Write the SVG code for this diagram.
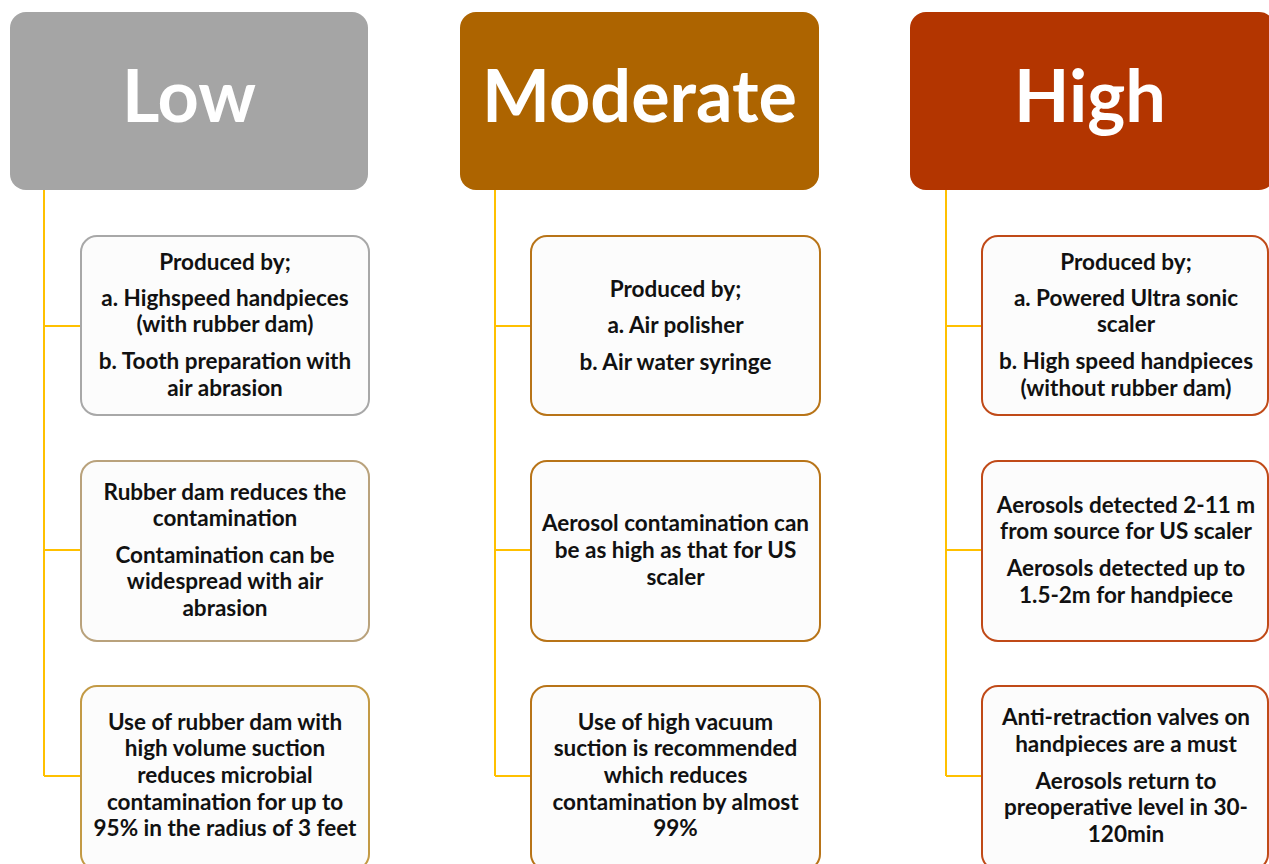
<svg xmlns="http://www.w3.org/2000/svg" width="1269" height="864" viewBox="0 0 1269 864">
  <style>
    .hdr-text { font-family: Lato, "Open Sans", "Liberation Sans", sans-serif; font-weight: 700; font-size: 72px; fill: #ffffff; text-anchor: middle; }
    .card { fill: #fcfcfc; stroke-width: 2; }
    .card-text { font-family: Lato, "Open Sans", "Liberation Sans", sans-serif; font-weight: 700; font-size: 22.5px; fill: #111111; text-anchor: middle; }
    .link { fill: none; stroke: #ffc000; stroke-width: 2; }
  </style>
  <rect width="1269" height="864" fill="#ffffff"/>

  <!-- connectors from each header down to its cards -->
  <g id="connectors">
    <path class="link" d="M44 190 V776 M44 326 H81 M44 550 H81 M44 776 H81"/>
    <path class="link" d="M495 190 V776 M495 326 H531 M495 550 H531 M495 776 H531"/>
    <path class="link" d="M946 190 V776 M946 326 H982 M946 550 H982 M946 776 H982"/>
  </g>

  <!-- column headers -->
  <g id="hdr-low">
    <rect x="10" y="12" width="358" height="178" rx="16" fill="#a5a5a5"/>
    <text class="hdr-text" x="189" y="122">Low</text>
  </g>
  <g id="hdr-moderate">
    <rect x="460" y="12" width="359" height="178" rx="16" fill="#ad6400"/>
    <text class="hdr-text" x="639.5" y="122">Moderate</text>
  </g>
  <g id="hdr-high">
    <rect x="910" y="12" width="365" height="178" rx="16" fill="#b33500"/>
    <text class="hdr-text" x="1090" y="122">High</text>
  </g>

  <!-- Low column cards -->
  <g id="low-1">
    <rect class="card" x="81" y="236" width="288" height="179" rx="16" stroke="#a8a8a8"/>
    <text class="card-text" x="225"><tspan x="225" y="270">Produced by;</tspan><tspan x="225" y="306">a. Highspeed handpieces</tspan><tspan x="225" y="332">(with rubber dam)</tspan><tspan x="225" y="369">b. Tooth preparation with</tspan><tspan x="225" y="396">air abrasion</tspan></text>
  </g>
  <g id="low-2">
    <rect class="card" x="81" y="461" width="288" height="180" rx="16" stroke="#b9a27c"/>
    <text class="card-text" x="225"><tspan x="225" y="500">Rubber dam reduces the</tspan><tspan x="225" y="526">contamination</tspan><tspan x="225" y="563">Contamination can be</tspan><tspan x="225" y="589">widespread with air</tspan><tspan x="225" y="616">abrasion</tspan></text>
  </g>
  <g id="low-3">
    <rect class="card" x="81" y="686" width="288" height="184" rx="16" stroke="#c39a45"/>
    <text class="card-text" x="225"><tspan x="225" y="730">Use of rubber dam with</tspan><tspan x="225" y="756">high volume suction</tspan><tspan x="225" y="783">reduces microbial</tspan><tspan x="225" y="810">contamination for up to</tspan><tspan x="225" y="836">95% in the radius of 3 feet</tspan></text>
  </g>

  <!-- Moderate column cards -->
  <g id="mod-1">
    <rect class="card" x="531" y="236" width="289" height="179" rx="16" stroke="#b87418"/>
    <text class="card-text" x="675.5"><tspan x="675.5" y="297">Produced by;</tspan><tspan x="675.5" y="333">a. Air polisher</tspan><tspan x="675.5" y="370">b. Air water syringe</tspan></text>
  </g>
  <g id="mod-2">
    <rect class="card" x="531" y="461" width="289" height="180" rx="16" stroke="#b87418"/>
    <text class="card-text" x="675.5"><tspan x="675.5" y="531">Aerosol contamination can</tspan><tspan x="675.5" y="558">be as high as that for US</tspan><tspan x="675.5" y="585">scaler</tspan></text>
  </g>
  <g id="mod-3">
    <rect class="card" x="531" y="686" width="289" height="184" rx="16" stroke="#b87418"/>
    <text class="card-text" x="675.5"><tspan x="675.5" y="730">Use of high vacuum</tspan><tspan x="675.5" y="756">suction is recommended</tspan><tspan x="675.5" y="783">which reduces</tspan><tspan x="675.5" y="810">contamination by almost</tspan><tspan x="675.5" y="836">99%</tspan></text>
  </g>

  <!-- High column cards -->
  <g id="high-1">
    <rect class="card" x="982" y="236" width="286" height="179" rx="16" stroke="#c04a18"/>
    <text class="card-text" x="1126"><tspan x="1126" y="270">Produced by;</tspan><tspan x="1126" y="306">a. Powered Ultra sonic</tspan><tspan x="1126" y="332">scaler</tspan><tspan x="1126" y="369">b. High speed handpieces</tspan><tspan x="1126" y="396">(without rubber dam)</tspan></text>
  </g>
  <g id="high-2">
    <rect class="card" x="982" y="461" width="286" height="180" rx="16" stroke="#c04a18"/>
    <text class="card-text" x="1126"><tspan x="1126" y="513">Aerosols detected 2-11 m</tspan><tspan x="1126" y="539">from source for US scaler</tspan><tspan x="1126" y="576">Aerosols detected up to</tspan><tspan x="1126" y="603">1.5-2m for handpiece</tspan></text>
  </g>
  <g id="high-3">
    <rect class="card" x="982" y="686" width="286" height="184" rx="16" stroke="#c04a18"/>
    <text class="card-text" x="1126"><tspan x="1126" y="725">Anti-retraction valves on</tspan><tspan x="1126" y="752">handpieces are a must</tspan><tspan x="1126" y="789">Aerosols return to</tspan><tspan x="1126" y="815">preoperative level in 30-</tspan><tspan x="1126" y="842">120min</tspan></text>
  </g>
</svg>
